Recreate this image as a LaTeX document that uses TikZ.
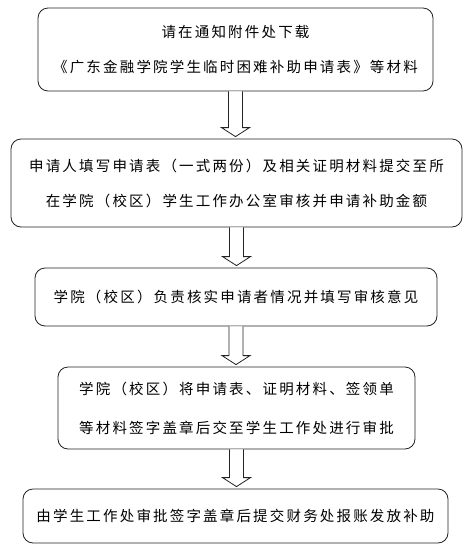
\documentclass[tikz,border=0pt]{standalone}
\usepackage{fontspec}
\setmainfont{Noto Sans CJK SC}[LetterSpace=15]
\usepackage{tikz}
\usetikzlibrary{calc}
\definecolor{FrameGray}{RGB}{35,35,35}
\newcommand{\blockarrow}[2]{%
  \draw[blockarr] let \p1=(#1.south), \p2=(#2.north) in
    (\x1-7pt,\y1) -- (\x1-7pt,\y2+11pt) -- (\x1-14pt,\y2+11pt) -- (\x1,\y2+2pt)
    -- (\x1+14pt,\y2+11pt) -- (\x1+7pt,\y2+11pt) -- (\x1+7pt,\y1);}

\begin{document}
\begin{tikzpicture}[x=1pt,y=-1pt,
    box/.style={draw=FrameGray,fill=white,line width=0.8pt,rounded corners=10pt,
                font=\fontsize{14.5}{35}\selectfont,align=center,inner sep=0pt},
    blockarr/.style={draw=FrameGray,fill=white,line width=0.8pt,line join=miter}
  ]
    \useasboundingbox (0,0) rectangle (473,558);
    \node[box,minimum width=395,minimum height=83] (download) at (235.5,49.5)
      {请在通知附件处下载\\《广东金融学院学生临时困难补助申请表》等材料};
    \node[box,minimum width=451,minimum height=88] (apply) at (236.5,183)
      {申请人填写申请表（一式两份）及相关证明材料提交至所\\在学院（校区）学生工作办公室审核并申请补助金额};
    \node[box,minimum width=402,minimum height=58] (verify) at (236,297)
      {学院（校区）负责核实申请者情况并填写审核意见};
    \node[box,minimum width=357,minimum height=82,font=\fontsize{14.5}{39}\selectfont] (submit) at (236.5,408)
      {学院（校区）将申请表、证明材料、签领单\\等材料签字盖章后交至学生工作处进行审批};
    \node[box,minimum width=425,minimum height=54] (pay) at (235.5,516)
      {由学生工作处审批签字盖章后提交财务处报账发放补助};
    \blockarrow{download}{apply}
    \blockarrow{apply}{verify}
    \blockarrow{verify}{submit}
    \blockarrow{submit}{pay}
  \end{tikzpicture}
\end{document}
